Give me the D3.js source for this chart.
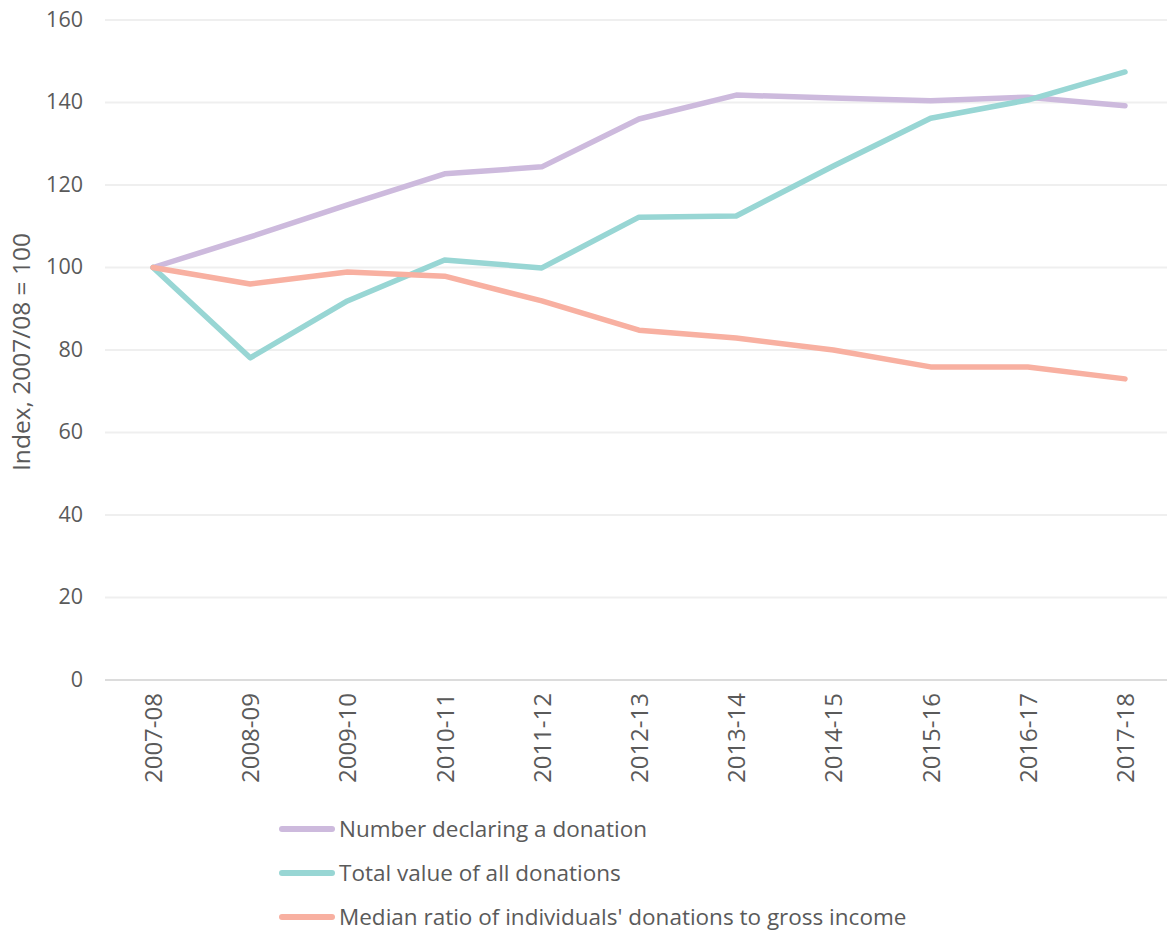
<!DOCTYPE html>
<html>
<head>
<meta charset="utf-8">
<script src="https://cdn.jsdelivr.net/npm/d3@7"></script>
<style>
  html, body { margin: 0; padding: 0; background: #fff; }
  svg { display: block; font-family: "Open Sans", Lato, sans-serif; }
</style>
</head>
<body>
<svg id="chart" width="1167" height="931"></svg>
<script>
// Financial years on the x axis
const years = ["2007-08","2008-09","2009-10","2010-11","2011-12","2012-13","2013-14","2014-15","2015-16","2016-17","2017-18"];
// Index values, 2007/08 = 100
const numberDeclaring = [100, 107.4, 115.2, 122.7, 124.4, 136.0, 141.8, 141.1, 140.4, 141.3, 139.2];
const totalValue      = [100, 78.1, 91.9, 101.8, 99.9, 112.2, 112.5, 124.6, 136.2, 140.6, 147.4];
const medianRatio     = [100, 96.0, 98.9, 97.9, 91.9, 84.8, 82.9, 80.0, 75.9, 75.9, 73.0];
const yTicks = [0, 20, 40, 60, 80, 100, 120, 140, 160];
const seriesNames = ["Number declaring a donation", "Total value of all donations", "Median ratio of individuals' donations to gross income"];
const seriesColors = ["#cdbadd", "#98d6d4", "#f8b0a1"];

const svg = d3.select("#chart");
const gridLeft = 105, gridRight = 1167;
const x = d3.scalePoint().domain(years).range([153, 1125]);
const y = d3.scaleLinear().domain([0, 160]).range([680, 20]);
const textColor = "#5a5a5a";
const fontFamily = "'Open Sans', Lato, sans-serif";

// Horizontal gridlines
svg.append("g").selectAll("line").data(yTicks).join("line")
  .attr("x1", gridLeft).attr("x2", gridRight)
  .attr("y1", d => y(d)).attr("y2", d => y(d))
  .attr("stroke", d => d === 0 ? "#dcdcdc" : "#efefef")
  .attr("stroke-width", 2);

// Y axis labels
const yAxis = svg.append("g").attr("transform", "translate(83,0)")
  .call(d3.axisLeft(y).tickValues(yTicks).tickSize(0).tickPadding(0));
yAxis.select(".domain").remove();
yAxis.selectAll("text").attr("fill", textColor).attr("font-size", 21.5)
  .attr("font-family", fontFamily).attr("dy", "0.3em");

// X axis labels (rotated)
const xAxis = svg.append("g").attr("transform", "translate(0,680)")
  .call(d3.axisBottom(x).tickSize(0));
xAxis.select(".domain").remove();
xAxis.selectAll("text")
  .attr("fill", textColor).attr("font-size", 24)
  .attr("font-family", fontFamily)
  .attr("transform", "rotate(-90)")
  .attr("text-anchor", "end")
  .attr("x", -13).attr("y", 0).attr("dy", "0.35em");

// Y axis title
svg.append("text")
  .attr("transform", "translate(30,352) rotate(-90)")
  .attr("text-anchor", "middle")
  .attr("fill", textColor).attr("font-size", 24.5)
  .attr("font-family", fontFamily)
  .text("Index, 2007/08 = 100");

// Series lines
const line = d3.line().x((d, i) => x(years[i])).y(d => y(d));
const allSeries = [numberDeclaring, totalValue, medianRatio];
svg.append("g").selectAll("path").data(allSeries).join("path")
  .attr("d", line)
  .attr("fill", "none")
  .attr("stroke", (d, i) => seriesColors[i])
  .attr("stroke-width", 5.5)
  .attr("stroke-linejoin", "round")
  .attr("stroke-linecap", "round");

// Legend
const legend = svg.append("g").selectAll("g").data(seriesNames).join("g")
  .attr("transform", (d, i) => `translate(282,${829 + i * 44})`);
legend.append("line")
  .attr("x1", 0).attr("x2", 50).attr("y1", 0).attr("y2", 0)
  .attr("stroke", (d, i) => seriesColors[i])
  .attr("stroke-width", 6).attr("stroke-linecap", "round");
legend.append("text")
  .attr("x", 57).attr("y", 0).attr("dy", "0.35em")
  .attr("fill", textColor).attr("font-size", 22.5)
  .attr("font-family", fontFamily)
  .text(d => d);
</script>
</body>
</html>
